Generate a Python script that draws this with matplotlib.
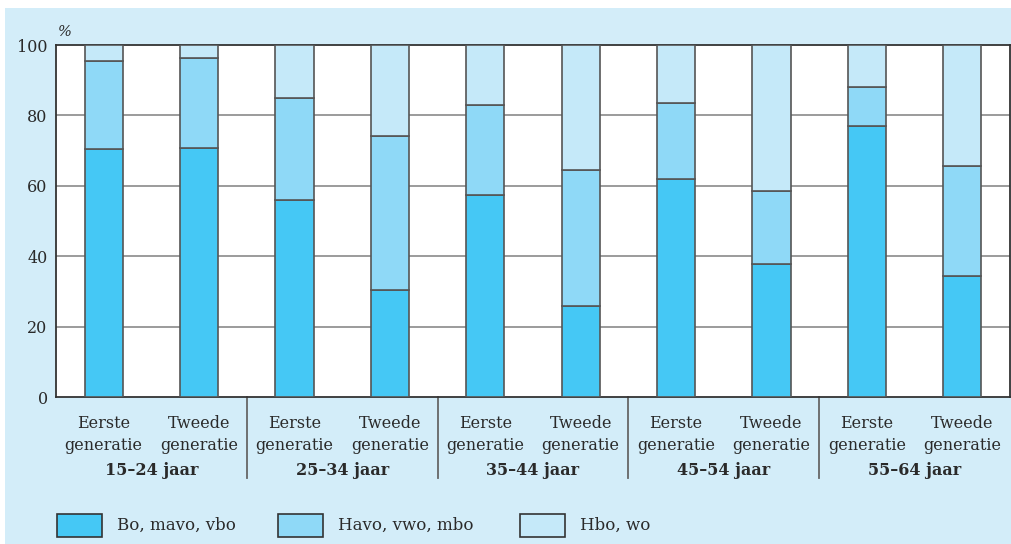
import matplotlib
matplotlib.use("Agg")
import matplotlib.pyplot as plt
import numpy as np
from matplotlib.patches import Rectangle

# Data
age_groups = ["15\u201324 jaar", "25\u201334 jaar", "35\u201344 jaar", "45\u201354 jaar", "55\u201364 jaar"]
generations = ["Eerste\ngeneratie", "Tweede\ngeneratie"]
series_names = ["Bo, mavo, vbo", "Havo, vwo, mbo", "Hbo, wo"]
bo = [70.5, 70.7, 56.0, 30.4, 57.4, 25.9, 61.9, 37.8, 77.0, 34.4]
havo = [25.0, 25.6, 29.0, 43.7, 25.6, 38.6, 21.5, 20.7, 11.2, 31.2]
hbo = [100 - a - b for a, b in zip(bo, havo)]
yticks = [0, 20, 40, 60, 80, 100]

bg = "#d3edf9"
c_bo = "#45c8f5"
c_havo = "#8fd9f7"
c_hbo = "#c5e9f9"
edge = "#555555"
txt = "#2a2a2a"
font = "DejaVu Serif"
fs = 11.5

plt.rcParams["font.family"] = [font]

fig = plt.figure(figsize=(10.12, 5.44), dpi=100, facecolor="white")
fig.patches.append(Rectangle((5 / 1012, 0), 1, 536 / 544, transform=fig.transFigure,
                             facecolor=bg, edgecolor="none", zorder=-10))
ax = fig.add_axes([56 / 1012, 147 / 544, 954 / 1012, 352 / 544])
ax.set_facecolor("white")

x = np.arange(len(bo)) + 0.5
w = 0.4
ax.bar(x, bo, w, color=c_bo, edgecolor=edge, linewidth=1.2, zorder=3)
ax.bar(x, havo, w, bottom=bo, color=c_havo, edgecolor=edge, linewidth=1.2, zorder=3)
ax.bar(x, hbo, w, bottom=np.array(bo) + np.array(havo), color=c_hbo, edgecolor=edge,
       linewidth=1.2, zorder=3)

ax.set_xlim(0, len(bo))
ax.set_ylim(0, 100)
ax.set_yticks(yticks)
ax.set_yticklabels([str(t) for t in yticks], fontsize=11.5, color=txt)
ax.tick_params(axis="y", length=0, pad=6)
ax.set_xticks([])
for y in yticks[1:-1]:
    ax.axhline(y, color="#8a8a8a", linewidth=1.2, zorder=1)
for s in ax.spines.values():
    s.set_color("#333333")
    s.set_linewidth(1.3)

ax.text(0.002, 1.018, "%", transform=ax.transAxes, fontsize=10.5, color=txt,
        ha="left", va="bottom", style="italic")

trans = ax.get_xaxis_transform()
for i, xi in enumerate(x):
    ax.text(xi, -0.05, generations[i % 2], transform=trans, ha="center", va="top",
            fontsize=fs, color=txt, linespacing=1.45)
for g, name in enumerate(age_groups):
    ax.text(2 * g + 1, -0.185, name, transform=trans, ha="center", va="top",
            fontsize=fs, color=txt, fontweight="bold")
for g in range(1, len(age_groups)):
    ax.plot([2 * g, 2 * g], [0, -0.23], transform=trans, color="#666666",
            linewidth=1.3, clip_on=False)

# Legend
legend_x = [57, 278, 520]
for lx, name, col in zip(legend_x, series_names, [c_bo, c_havo, c_hbo]):
    fig.patches.append(Rectangle((lx / 1012, (544 - 537) / 544), 45 / 1012, 23 / 544,
                                 transform=fig.transFigure, facecolor=col,
                                 edgecolor="#333333", linewidth=1.2))
    fig.text((lx + 60) / 1012, (544 - 525) / 544, name, fontsize=fs + 0.5, color=txt,
             ha="left", va="center")

fig.savefig("out.png", dpi=100, facecolor="white")
